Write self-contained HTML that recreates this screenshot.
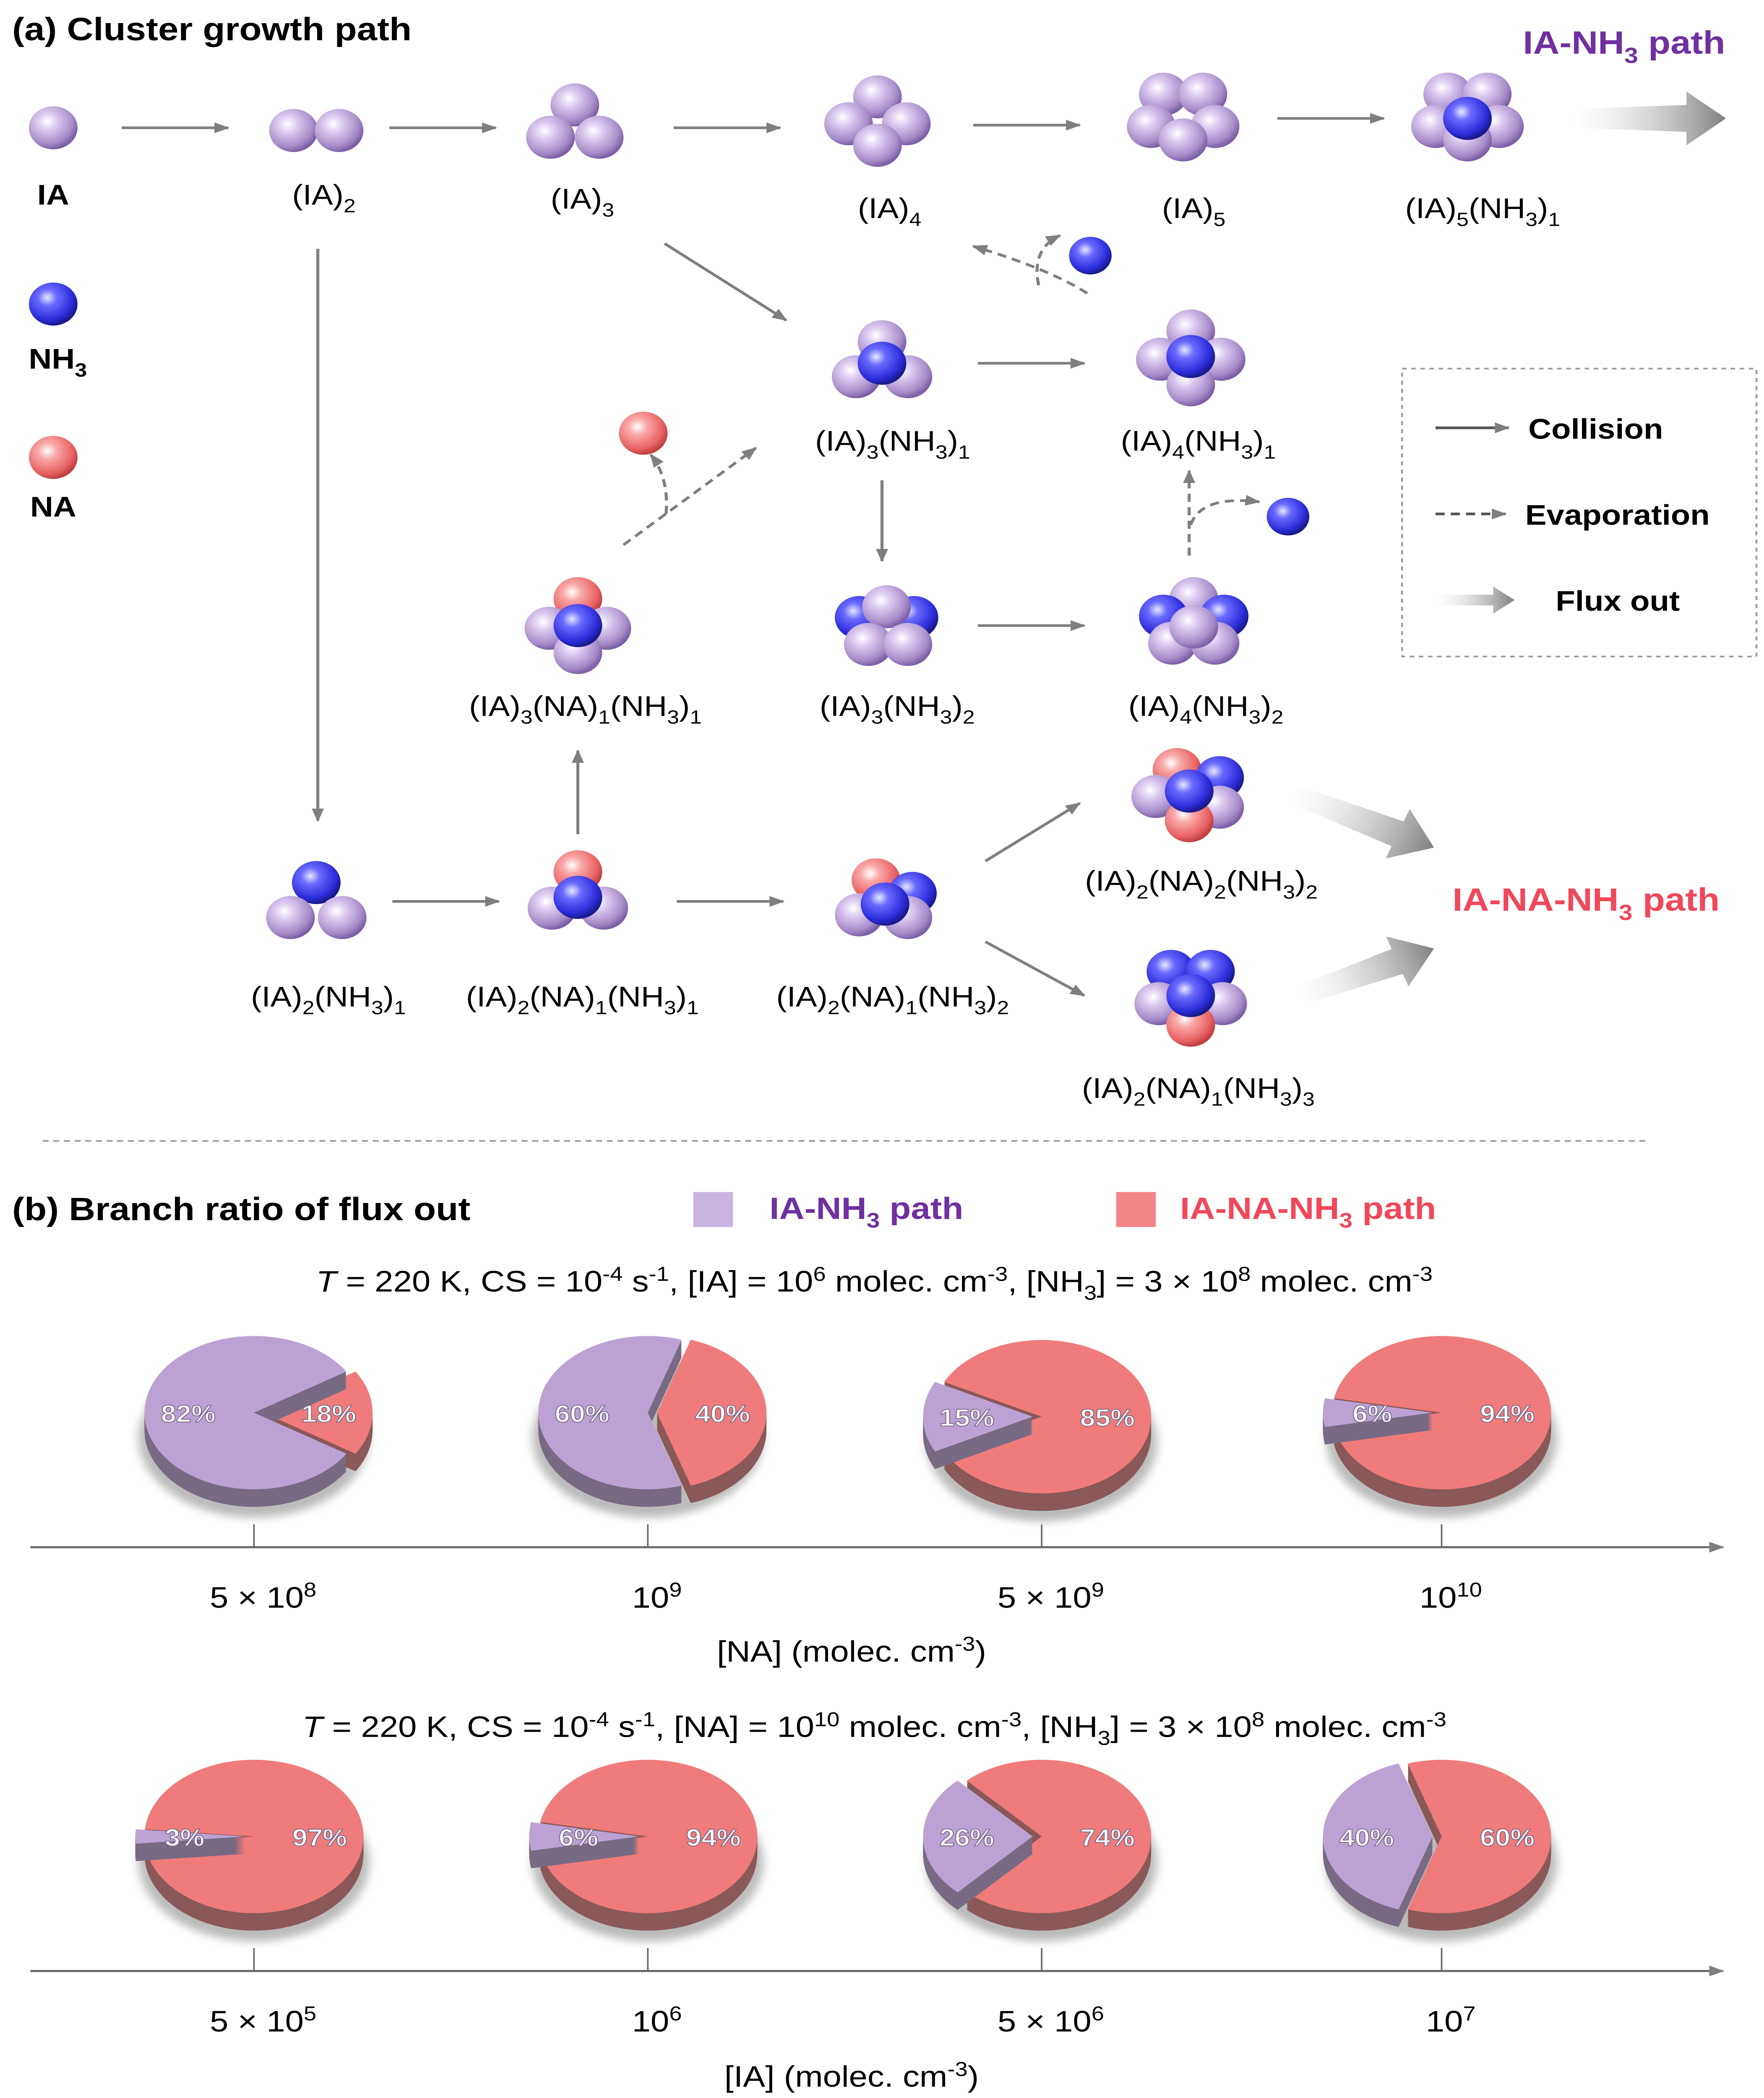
<!DOCTYPE html>
<html><head><meta charset="utf-8"><style>
html,body{margin:0;padding:0;background:#fff;overflow:hidden;width:100vw;height:100vh}
svg{display:block;font-family:"Liberation Sans",Arial,sans-serif;width:100vw;height:100vh}
</style></head><body>
<svg id="fig" viewBox="0 0 1160 1559.4" preserveAspectRatio="none" xmlns="http://www.w3.org/2000/svg">
<defs>
<radialGradient id="gP" cx="38%" cy="35%" r="65%"><stop offset="0" stop-color="#ffffff"/><stop offset="0.3" stop-color="#dccbf0"/><stop offset="0.8" stop-color="#a68bc9"/><stop offset="1" stop-color="#7c60a6"/></radialGradient>
<radialGradient id="gB" cx="38%" cy="35%" r="65%"><stop offset="0" stop-color="#e8e8ff"/><stop offset="0.3" stop-color="#6a6aff"/><stop offset="0.8" stop-color="#2b2bd8"/><stop offset="1" stop-color="#1a1a8c"/></radialGradient>
<radialGradient id="gR" cx="38%" cy="35%" r="65%"><stop offset="0" stop-color="#ffffff"/><stop offset="0.3" stop-color="#f9a8a8"/><stop offset="0.8" stop-color="#e86262"/><stop offset="1" stop-color="#c04040"/></radialGradient>
<linearGradient id="gA" x1="0" x2="1"><stop offset="0" stop-color="#fff" stop-opacity="0.3"/><stop offset="1" stop-color="#7f7f7f"/></linearGradient>
<marker id="ah" markerWidth="10" markerHeight="8" refX="9" refY="4" orient="auto" markerUnits="userSpaceOnUse"><path d="M0,0 L10,4 L0,8 Z" fill="#7f7f7f"/></marker>
<filter id="blur"><feGaussianBlur stdDeviation="3"/></filter>
</defs>
<g id="partA"></g>
<g id="partB"></g>
</svg>
<script>
const NS='http://www.w3.org/2000/svg';
const A=document.getElementById('partA'),B=document.getElementById('partB');
function mk(p,tag,at){const e=document.createElementNS(NS,tag);for(const k in at)e.setAttribute(k,at[k]);p.appendChild(e);return e;}
function txt(p,x,y,parts,size,opts){opts=opts||{};const t=mk(p,'text',{x:x,y:y,'font-size':size,'text-anchor':opts.anchor||'middle',fill:opts.fill||'#000','font-weight':opts.bold?'bold':'normal'});
 parts.forEach(pt=>{const s=mk(t,'tspan',{});if(typeof pt==='string'){s.textContent=pt;}else{s.textContent=pt[1];s.setAttribute('font-size',size*0.68);if(pt[0]==='sub')s.setAttribute('dy',size*0.28);else s.setAttribute('dy',-size*0.38);
 const r=mk(t,'tspan',{});r.setAttribute('dy',pt[0]==='sub'?-size*0.28:size*0.38);r.textContent='\u200b';}});
 if(opts.italic)t.setAttribute('font-style','italic');return t;}
function sph(p,x,y,c,r){mk(p,'circle',{cx:x,cy:y,r:r||16,fill:'url(#g'+c+')'});}
function cluster(name,x,y,list){const g=mk(A,'g',{});list.forEach(s=>sph(g,x+s[0],y+s[1],s[2]));return g;}
function arr(x1,y1,x2,y2,dash){const l=mk(A,'line',{x1:x1,y1:y1,x2:x2,y2:y2,stroke:'#7f7f7f','stroke-width':2,'marker-end':'url(#ah)'});if(dash)l.setAttribute('stroke-dasharray','6,4');}
function big(x1,y1,x2,y2){const a=Math.atan2(y2-y1,x2-x1),L=Math.hypot(x2-x1,y2-y1);const g=mk(A,'g',{transform:`translate(${x1},${y1}) rotate(${a*180/Math.PI})`});
 mk(g,'path',{d:`M0,-7 L${L-26},-10 L${L-26},-20 L${L},0 L${L-26},20 L${L-26},10 L0,7 Z`,fill:'url(#gA)'});}
txt(A,8,30,['(a)  Cluster growth path'],24,{anchor:'start',bold:true});
txt(A,1068,40,['IA-NH',['sub','3'],' path'],24,{bold:true,fill:'#7030a0'});
txt(A,1043,677,['IA-NA-NH',['sub','3'],' path'],24,{bold:true,fill:'#f0485a'});
sph(A,35,95,'P');txt(A,35,152,['IA'],21,{bold:true});
sph(A,35,226,'B');txt(A,38,274,['NH',['sub','3']],21,{bold:true});
sph(A,35,340,'R');txt(A,35,384,['NA'],21,{bold:true});
cluster('cluster-ia2',208,97,[[-15,0,'P'],[15,0,'P']]);txt(A,213,152,['(IA)',['sub','2']],21);
cluster('cluster-ia3',378,93,[[0,-15,'P'],[-16,9,'P'],[16,9,'P']]);txt(A,383,155,['(IA)',['sub','3']],21);
cluster('cluster-ia4',577,90,[[0,-18,'P'],[-19,2,'P'],[19,2,'P'],[0,18,'P']]);txt(A,585,162,['(IA)',['sub','4']],21);
cluster('cluster-ia5',778,88,[[-13,-18,'P'],[13,-18,'P'],[-21,6,'P'],[21,6,'P'],[0,16,'P']]);txt(A,785,162,['(IA)',['sub','5']],21);
cluster('cluster-ia5-nh3',965,88,[[-13,-18,'P'],[13,-18,'P'],[-21,6,'P'],[21,6,'P'],[0,16,'P'],[0,0,'B']]);txt(A,975,162,['(IA)',['sub','5'],'(NH',['sub','3'],')',['sub','1']],21);
arr(80,95,150,95);arr(256,95,326,95);arr(443,95,513,95);arr(640,93,710,93);arr(840,88,910,88);
big(1035,88,1135,88);
arr(209,185,209,610);
arr(437,181,517,238);
cluster('cluster-ia3-nh3',580,270,[[0,-16,'P'],[-17,10,'P'],[17,10,'P'],[0,0,'B']]);txt(A,587,335,['(IA)',['sub','3'],'(NH',['sub','3'],')',['sub','1']],21);
arr(643,270,713,270);
cluster('cluster-ia4-nh3',783,265,[[0,-19,'P'],[-20,2,'P'],[20,2,'P'],[0,21,'P'],[0,0,'B']]);txt(A,788,335,['(IA)',['sub','4'],'(NH',['sub','3'],')',['sub','1']],21);
mk(A,'path',{d:'M715,218 Q690,200 640,183',fill:'none',stroke:'#7f7f7f','stroke-width':2,'stroke-dasharray':'6,4','marker-end':'url(#ah)'});
mk(A,'path',{d:'M683,212 Q678,185 697,175',fill:'none',stroke:'#7f7f7f','stroke-width':2,'stroke-dasharray':'6,4','marker-end':'url(#ah)'});
sph(A,717,190,'B',14);
sph(A,423,322,'R',16);
arr(410,405,497,333,true);
mk(A,'path',{d:'M438,382 Q440,355 428,338',fill:'none',stroke:'#7f7f7f','stroke-width':2,'stroke-dasharray':'6,4','marker-end':'url(#ah)'});
cluster('cluster-ia3-na1-nh3',380,465,[[0,-20,'R'],[-19,2,'P'],[19,2,'P'],[0,20,'P'],[0,0,'B']]);txt(A,385,532,['(IA)',['sub','3'],'(NA)',['sub','1'],'(NH',['sub','3'],')',['sub','1']],21);
arr(580,357,580,417);
cluster('cluster-ia3-nh3-2',583,465,[[-18,-6,'B'],[18,-6,'B'],[0,-14,'P'],[-12,14,'P'],[14,14,'P']]);txt(A,590,532,['(IA)',['sub','3'],'(NH',['sub','3'],')',['sub','2']],21);
arr(643,465,713,465);
cluster('cluster-ia4-nh3-2',785,463,[[0,-18,'P'],[-20,-5,'B'],[20,-5,'B'],[-14,15,'P'],[14,15,'P'],[0,3,'P']]);txt(A,793,532,['(IA)',['sub','4'],'(NH',['sub','3'],')',['sub','2']],21);
mk(A,'path',{d:'M782,413 L782,350',fill:'none',stroke:'#7f7f7f','stroke-width':2,'stroke-dasharray':'6,4','marker-end':'url(#ah)'});
mk(A,'path',{d:'M783,390 Q790,368 828,373',fill:'none',stroke:'#7f7f7f','stroke-width':2,'stroke-dasharray':'6,4','marker-end':'url(#ah)'});
sph(A,847,384,'B',14);
const lg=mk(A,'g',{});
mk(lg,'rect',{x:922,y:274,width:233,height:214,fill:'none',stroke:'#999','stroke-width':1.2,'stroke-dasharray':'3,3'});
mk(lg,'line',{x1:944,y1:318,x2:992,y2:318,stroke:'#555','stroke-width':2,'marker-end':'url(#ah)'});
txt(lg,1005,326,['Collision'],21,{anchor:'start',bold:true});
mk(lg,'line',{x1:944,y1:382,x2:990,y2:382,stroke:'#555','stroke-width':2,'stroke-dasharray':'6,4','marker-end':'url(#ah)'});
txt(lg,1003,390,['Evaporation'],21,{anchor:'start',bold:true});
{const g=mk(lg,'g',{});mk(g,'path',{d:'M944,442 L982,442 L982,436 L996,446 L982,456 L982,450 L944,450 Z',fill:'url(#gA)'});}
txt(lg,1023,454,['Flux out'],21,{anchor:'start',bold:true});
arr(380,620,380,558);
cluster('cluster-ia2-nh3',208,672,[[0,-16,'B'],[-17,10,'P'],[17,10,'P']]);txt(A,216,748,['(IA)',['sub','2'],'(NH',['sub','3'],')',['sub','1']],21);
arr(258,670,328,670);
cluster('cluster-ia2-na1-nh3',380,665,[[0,-17,'R'],[-17,10,'P'],[17,10,'P'],[0,2,'B']]);txt(A,383,748,['(IA)',['sub','2'],'(NA)',['sub','1'],'(NH',['sub','3'],')',['sub','1']],21);
arr(445,670,515,670);
cluster('cluster-ia2-na1-nh3-2',582,670,[[-6,-16,'R'],[18,-6,'B'],[-17,10,'P'],[15,12,'P'],[0,2,'B']]);txt(A,587,748,['(IA)',['sub','2'],'(NA)',['sub','1'],'(NH',['sub','3'],')',['sub','2']],21);
arr(648,640,710,597);arr(648,700,713,740);
cluster('cluster-ia2-na2-nh3-2',782,590,[[-8,-18,'R'],[20,-12,'B'],[-22,2,'P'],[20,10,'P'],[0,20,'R'],[0,-2,'B']]);txt(A,790,662,['(IA)',['sub','2'],'(NA)',['sub','2'],'(NH',['sub','3'],')',['sub','2']],21);
cluster('cluster-ia2-na1-nh3-3',783,742,[[-13,-20,'B'],[13,-20,'B'],[-21,4,'P'],[21,4,'P'],[0,20,'R'],[0,-2,'B']]);txt(A,788,816,['(IA)',['sub','2'],'(NA)',['sub','1'],'(NH',['sub','3'],')',['sub','3']],21);
big(850,590,943,630);big(855,740,943,705);
mk(A,'line',{x1:28,y1:848,x2:1082,y2:848,stroke:'#999','stroke-width':1.2,'stroke-dasharray':'4,3'});

// ===== Panel B data =====
const row1Categories=['5 × 10|8','10|9','5 × 10|9','10|10'];
const row1Purple=[82,60,15,6];
const row2Categories=['5 × 10|5','10|6','5 × 10|6','10|7'];
const row2Purple=[3,6,26,40];
const row1Xs=[167,426,685,948];
const row2Xs=[167,426,685,948];

txt(B,8,907,['(b)  Branch ratio of flux out'],24,{anchor:'start',bold:true});
mk(B,'rect',{x:456,y:886,width:26,height:26,fill:'#c9b3e0'});
txt(B,506,906,['IA-NH',['sub','3'],' path'],23,{anchor:'start',bold:true,fill:'#7030a0'});
mk(B,'rect',{x:734,y:886,width:26,height:26,fill:'#f28585'});
txt(B,776,906,['IA-NA-NH',['sub','3'],' path'],23,{anchor:'start',bold:true,fill:'#f0485a'});

function subtitle(y,mid){const t=txt(B,575,y,[],22);
 const parts=[['i','T'],' = 220 K, CS = 10',['sup','-4'],' s',['sup','-1'],', '].concat(mid).concat([', [NH',['sub','3'],'] = 3 × 10',['sup','8'],' molec. cm',['sup','-3']]);
 parts.forEach(pt=>{const s=mk(t,'tspan',{});if(typeof pt==='string')s.textContent=pt;else if(pt[0]==='i'){s.textContent=pt[1];s.setAttribute('font-style','italic');}
 else{s.textContent=pt[1];s.setAttribute('font-size',15);s.setAttribute('dy',pt[0]==='sub'?6:-8);const r=mk(t,'tspan',{});r.setAttribute('dy',pt[0]==='sub'?-6:8);r.textContent='\u200b';}});}
subtitle(960,['[IA] = 10',['sup','6'],' molec. cm',['sup','-3']]);
subtitle(1291,['[NA] = 10',['sup','10'],' molec. cm',['sup','-3']]);

function ep(cx,cy,rx,ry,a){return [cx+rx*Math.cos(a),cy+ry*Math.sin(a)];}
function slice(g,cx,cy,rx,ry,a0,a1,fill,op){const p0=ep(cx,cy,rx,ry,a0),p1=ep(cx,cy,rx,ry,a1);const large=(a1-a0)>Math.PI?1:0;
 return mk(g,'path',{d:`M${cx},${cy} L${p0[0]},${p0[1]} A${rx},${ry} 0 ${large} 1 ${p1[0]},${p1[1]} Z`,fill:fill,'fill-opacity':op||1});}
function pie(cx,cy,purple,idx,row){const g=mk(B,'g',{});
 
 
 const rx=72,ry=57,d=13;const red=100-purple;
 mk(g,'ellipse',{cx:cx,cy:cy+d+6,rx:rx+4,ry:ry+2,fill:'#bbb',filter:'url(#blur)'});
 const ra=red/100*2*Math.PI;const segs=[{a0:-ra/2,a1:ra/2,c:'#ef7b7b',dc:'#8a5858',v:red,n:'red'},{a0:ra/2,a1:2*Math.PI-ra/2,c:'#bca2d4',dc:'#776a82',v:purple,n:'purple'}];
 const small=red<purple?0:1;
 segs.forEach((s,i)=>{const m=(s.a0+s.a1)/2;const ex=i===small?6:0;const ox=cx+ex*Math.cos(m),oy=cy+ex*Math.sin(m);
  const sg=mk(g,'g',{});
  for(let k=d;k>0;k--)slice(sg,ox,oy+k,rx,ry,s.a0,s.a1,s.dc);
  slice(sg,ox,oy,rx,ry,s.a0,s.a1,s.c);
  const lr=s.v<10?0.55:0.6;const lp=[ox+rx*lr*Math.cos(m),oy+ry*0.05*Math.sin(m)];
  const t=txt(sg,lp[0],lp[1]+7,[s.v+'%'],18,{bold:true,fill:'#fff'});t.setAttribute('stroke','#7a6a8a');t.setAttribute('stroke-width','0.6');});
}
function axis(y,xs,cats,vals,row,title,titleY){const ax=mk(B,'g',{});
 mk(ax,'line',{x1:20,y1:y,x2:1133,y2:y,stroke:'#666','stroke-width':1.5,'marker-end':'url(#ah)'});
 xs.forEach((x,i)=>{mk(ax,'line',{x1:x,y1:y-17,x2:x,y2:y,stroke:'#666','stroke-width':1});
  const c=cats[i].split('|');txt(ax,x+6,y+45,[c[0],['sup',c[1]]],22);
  pie(x,y-100+(vals[i]<20&&vals[i]>10?3:0),vals[i],i,row);});
 const t=txt(ax,560,titleY,[],22);
 [title[0],['sup','-3'],')'].forEach(pt=>{const s=mk(t,'tspan',{});if(typeof pt==='string')s.textContent=pt;else{s.textContent=pt[1];s.setAttribute('font-size',15);s.setAttribute('dy',-8);const r=mk(t,'tspan',{dy:8});r.textContent='\u200b';}});}
axis(1150,row1Xs,row1Categories,row1Purple,'na',['[NA] (molec. cm'],1235);
axis(1465,row2Xs,row2Categories,row2Purple,'ia',['[IA] (molec. cm'],1551);
</script>
</body></html>
